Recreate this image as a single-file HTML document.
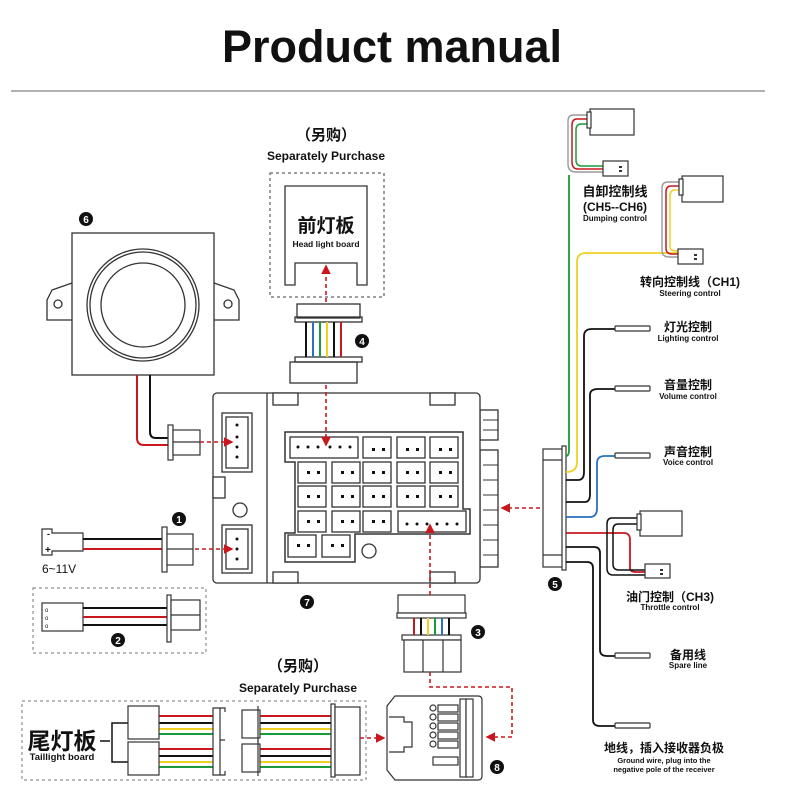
<!DOCTYPE html>
<html><head><meta charset="utf-8"><style>
body{margin:0;background:#fff}
svg{display:block}
text{font-family:"Liberation Sans","Noto Sans CJK SC",sans-serif;fill:#111}
.b{font-weight:bold}
</style></head><body>
<svg width="800" height="800" viewBox="0 0 800 800" xmlns="http://www.w3.org/2000/svg">
<defs>
<marker id="ar" markerWidth="6" markerHeight="6" refX="5" refY="3" orient="auto"><path d="M0,0 L6,3 L0,6z" fill="#c8181e"/></marker>
</defs>
<text x="392" y="62" text-anchor="middle" class="b" font-size="45">Product manual</text>
<line x1="11" y1="91" x2="765" y2="91" stroke="#999" stroke-width="1.5"/>

<g fill="none" stroke="#333" stroke-width="1.3">
<path d="M72,283 L52,290 L47,300 L47,320 L72,320"/>
<path d="M214,283 L234,290 L239,300 L239,320 L214,320"/>
<circle cx="58" cy="304" r="4"/><circle cx="228" cy="304" r="4"/>
<rect x="72" y="233" width="142" height="142" fill="#fff"/>
<circle cx="143" cy="305" r="56"/><circle cx="143" cy="305" r="53"/><circle cx="143" cy="305" r="42"/>
<rect x="270" y="173" width="114" height="124" stroke-dasharray="3,3" stroke="#666"/>
<path d="M285,186 H367 V285 H357 V263 H295 V285 H285 Z"/>
<rect x="297" y="304" width="63" height="14"/><rect x="295" y="317" width="67" height="5"/>
<rect x="295" y="357" width="67" height="5"/><rect x="290" y="362" width="67" height="21"/>
</g>
<g stroke-width="2">
<line x1="306" y1="322" x2="306" y2="357" stroke="#111"/><line x1="313" y1="322" x2="313" y2="357" stroke="#2a6fc0"/>
<line x1="320" y1="322" x2="320" y2="357" stroke="#1b9a3a"/><line x1="327" y1="322" x2="327" y2="357" stroke="#f0d020"/>
<line x1="334" y1="322" x2="334" y2="357" stroke="#111"/><line x1="341" y1="322" x2="341" y2="357" stroke="#c8181e"/>
</g>
<text x="326" y="140" text-anchor="middle" class="b" font-size="15">（另购）</text>
<text x="326" y="160" text-anchor="middle" class="b" font-size="12">Separately Purchase</text>
<text x="326" y="232" text-anchor="middle" class="b" font-size="19">前灯板</text>
<text x="326" y="247" text-anchor="middle" class="b" font-size="8.5">Head light board</text>

<path d="M137,375 V438 Q137,445 144,445 H170" fill="none" stroke="#c8181e" stroke-width="2"/>
<path d="M150,375 V432 Q150,438 156,438 H170" fill="none" stroke="#111" stroke-width="2"/>
<g fill="#fff" stroke="#333" stroke-width="1.2">
<rect x="168" y="425" width="5" height="35"/><rect x="173" y="430" width="27" height="25"/><line x1="173" y1="442" x2="200" y2="442"/>
</g>

<g fill="#fff" stroke="#333" stroke-width="1.3">
<rect x="480" y="410" width="18" height="30"/><rect x="480" y="450" width="18" height="117"/>
<rect x="213" y="393" width="267" height="190" rx="4"/>
<line x1="267" y1="393" x2="267" y2="583"/>
<rect x="273" y="393" width="25" height="12"/><rect x="430" y="393" width="25" height="12"/>
<rect x="273" y="572" width="25" height="11"/><rect x="430" y="572" width="25" height="11"/>
<rect x="222" y="413" width="30" height="59"/><rect x="226" y="417" width="22" height="51"/>
<rect x="222" y="525" width="30" height="48"/><rect x="226" y="529" width="22" height="40"/>
<rect x="213" y="477" width="12" height="21"/>
<circle cx="240" cy="510" r="7"/><circle cx="369" cy="551" r="7"/>
<path d="M285,432 H463 V509 H470 V534 H355 V562 H285 V533 H295 V462 H285 Z" stroke-width="1.5"/>
<rect x="290" y="437" width="68" height="21"/>
<rect x="363" y="437" width="28" height="21"/><rect x="397" y="437" width="28" height="21"/><rect x="430" y="437" width="28" height="21"/>
<rect x="298" y="462" width="28" height="21"/><rect x="332" y="462" width="28" height="21"/><rect x="363" y="462" width="28" height="21"/><rect x="397" y="462" width="28" height="21"/><rect x="430" y="462" width="28" height="21"/>
<rect x="298" y="486" width="28" height="21"/><rect x="332" y="486" width="28" height="21"/><rect x="363" y="486" width="28" height="21"/><rect x="397" y="486" width="28" height="21"/><rect x="430" y="486" width="28" height="21"/>
<rect x="298" y="511" width="28" height="21"/><rect x="332" y="511" width="28" height="21"/><rect x="363" y="511" width="28" height="21"/>
<rect x="398" y="511" width="68" height="21"/>
<rect x="288" y="535" width="28" height="22"/><rect x="322" y="535" width="28" height="22"/>
</g>
<g stroke="#333" stroke-width="1">
<line x1="483" y1="420" x2="498" y2="420"/><line x1="483" y1="430" x2="498" y2="430"/>
<line x1="483" y1="465" x2="498" y2="465"/><line x1="483" y1="480" x2="498" y2="480"/><line x1="483" y1="495" x2="498" y2="495"/><line x1="483" y1="510" x2="498" y2="510"/><line x1="483" y1="525" x2="498" y2="525"/><line x1="483" y1="540" x2="498" y2="540"/><line x1="483" y1="555" x2="498" y2="555"/>
</g>
<g fill="#111">
<circle cx="298" cy="447" r="1.5"/><circle cx="308" cy="447" r="1.5"/><circle cx="318" cy="447" r="1.5"/><circle cx="330" cy="447" r="1.5"/><circle cx="340" cy="447" r="1.5"/><circle cx="350" cy="447" r="1.5"/>
<circle cx="407" cy="524" r="1.5"/><circle cx="417" cy="524" r="1.5"/><circle cx="427" cy="524" r="1.5"/><circle cx="437" cy="524" r="1.5"/><circle cx="447" cy="524" r="1.5"/><circle cx="457" cy="524" r="1.5"/>
<circle cx="237" cy="425" r="1.5"/><circle cx="237" cy="437" r="1.5"/><circle cx="237" cy="447" r="1.5"/><circle cx="237" cy="457" r="1.5"/>
<circle cx="237" cy="539" r="1.5"/><circle cx="237" cy="549" r="1.5"/><circle cx="237" cy="559" r="1.5"/>
</g>
<g fill="#111">
<path d="M372,448h3v3h-3zM382,448h3v3h-3zM406,448h3v3h-3zM416,448h3v3h-3zM439,448h3v3h-3zM449,448h3v3h-3z
M307,471h3v3h-3zM317,471h3v3h-3zM341,471h3v3h-3zM351,471h3v3h-3zM372,471h3v3h-3zM382,471h3v3h-3zM406,471h3v3h-3zM416,471h3v3h-3zM439,471h3v3h-3zM449,471h3v3h-3z
M307,495h3v3h-3zM317,495h3v3h-3zM341,495h3v3h-3zM351,495h3v3h-3zM372,495h3v3h-3zM382,495h3v3h-3zM406,495h3v3h-3zM416,495h3v3h-3zM439,495h3v3h-3zM449,495h3v3h-3z
M307,520h3v3h-3zM317,520h3v3h-3zM341,520h3v3h-3zM351,520h3v3h-3zM372,520h3v3h-3zM382,520h3v3h-3z
M297,544h3v3h-3zM307,544h3v3h-3zM331,544h3v3h-3zM341,544h3v3h-3z"/>
</g>

<g fill="#fff" stroke="#333" stroke-width="1.2">
<path d="M42,529 H52 V533 H83 V551 H52 V555 H42 Z"/>
</g>
<text x="47" y="537" font-size="9" class="b">-</text><text x="45" y="553" font-size="10" class="b">+</text>
<line x1="83" y1="539" x2="162" y2="539" stroke="#111" stroke-width="2"/>
<line x1="83" y1="549" x2="162" y2="549" stroke="#c8181e" stroke-width="2"/>
<g fill="#fff" stroke="#333" stroke-width="1.2">
<rect x="162" y="527" width="5" height="45"/><rect x="167" y="534" width="26" height="31"/><line x1="167" y1="549" x2="193" y2="549"/>
</g>
<text x="42" y="573" font-size="12">6~11V</text>

<rect x="33" y="588" width="173" height="65" fill="none" stroke="#777" stroke-dasharray="3,3"/>
<g fill="#fff" stroke="#333" stroke-width="1.2"><rect x="42" y="603" width="41" height="28"/></g>
<text x="45" y="612" font-size="6">o</text><text x="45" y="620" font-size="6">o</text><text x="45" y="628" font-size="6">o</text>
<line x1="83" y1="608" x2="167" y2="608" stroke="#111" stroke-width="2"/>
<line x1="83" y1="617" x2="167" y2="617" stroke="#c8181e" stroke-width="2"/>
<line x1="83" y1="625" x2="167" y2="625" stroke="#111" stroke-width="2"/>
<g fill="#fff" stroke="#333" stroke-width="1.2"><rect x="167" y="595" width="4" height="47"/><rect x="171" y="600" width="29" height="30"/><line x1="171" y1="615" x2="200" y2="615"/></g>

<g fill="#fff" stroke="#333" stroke-width="1.2">
<rect x="398" y="595" width="67" height="18"/><rect x="397" y="613" width="69" height="5"/>
<rect x="402" y="635" width="59" height="5"/><rect x="404" y="640" width="57" height="32"/>
<line x1="423" y1="640" x2="423" y2="672"/><line x1="443" y1="640" x2="443" y2="672"/>
</g>
<g stroke-width="2">
<line x1="414" y1="618" x2="414" y2="635" stroke="#c8181e"/><line x1="421" y1="618" x2="421" y2="635" stroke="#111"/>
<line x1="428" y1="618" x2="428" y2="635" stroke="#f0d020"/><line x1="435" y1="618" x2="435" y2="635" stroke="#1b9a3a"/>
<line x1="442" y1="618" x2="442" y2="635" stroke="#2a6fc0"/><line x1="449" y1="618" x2="449" y2="635" stroke="#111"/>
</g>

<g fill="#fff" stroke="#333" stroke-width="1.2">
<path d="M395,696 H478 Q482,696 482,700 V776 Q482,780 478,780 H395 L387,770 V706 Z"/>
<path d="M389,717 H404 V722 H412 V747 H404 V752 H389"/>
<rect x="460" y="699" width="6" height="78"/><rect x="466" y="699" width="7" height="78"/>
<rect x="438" y="705" width="20" height="7"/><rect x="438" y="714" width="20" height="7"/><rect x="438" y="723" width="20" height="7"/><rect x="438" y="732" width="20" height="7"/><rect x="438" y="741" width="20" height="7"/><rect x="433" y="757" width="25" height="8"/>
<circle cx="433" cy="708" r="3"/><circle cx="433" cy="717" r="3"/><circle cx="433" cy="726" r="3"/><circle cx="433" cy="735" r="3"/><circle cx="433" cy="744" r="3"/>
</g>

<rect x="22" y="701" width="344" height="79" fill="none" stroke="#777" stroke-dasharray="3,3"/>
<text x="62" y="749" text-anchor="middle" class="b" font-size="23">尾灯板</text>
<text x="62" y="760" text-anchor="middle" class="b" font-size="9.5">Taillight board</text>
<path d="M100,741 H110 M128,723 H112 V762 H128" fill="none" stroke="#111" stroke-width="1.5"/>
<g stroke-width="2">
<line x1="159" y1="716" x2="213" y2="716" stroke="#c8181e"/><line x1="159" y1="723" x2="213" y2="723" stroke="#111"/><line x1="159" y1="729" x2="213" y2="729" stroke="#f0d020"/><line x1="159" y1="734" x2="213" y2="734" stroke="#1b9a3a"/>
<line x1="159" y1="749" x2="213" y2="749" stroke="#c8181e"/><line x1="159" y1="756" x2="213" y2="756" stroke="#111"/><line x1="159" y1="762" x2="213" y2="762" stroke="#f0d020"/><line x1="159" y1="767" x2="213" y2="767" stroke="#1b9a3a"/>
<line x1="260" y1="716" x2="331" y2="716" stroke="#c8181e"/><line x1="260" y1="723" x2="331" y2="723" stroke="#111"/><line x1="260" y1="729" x2="331" y2="729" stroke="#f0d020"/><line x1="260" y1="734" x2="331" y2="734" stroke="#1b9a3a"/>
<line x1="260" y1="749" x2="331" y2="749" stroke="#c8181e"/><line x1="260" y1="756" x2="331" y2="756" stroke="#111"/><line x1="260" y1="762" x2="331" y2="762" stroke="#f0d020"/><line x1="260" y1="767" x2="331" y2="767" stroke="#1b9a3a"/>
</g>
<g fill="#fff" stroke="#333" stroke-width="1.2">
<rect x="128" y="706" width="31" height="33"/><rect x="128" y="742" width="31" height="33"/>
<path d="M213,708 H220 V775 H213 Z M220,708 H225 V712 M220,775 H225 V771 M220,740 H225"/>
<rect x="242" y="710" width="18" height="28"/><rect x="242" y="744" width="18" height="28"/>
<line x1="258" y1="706" x2="258" y2="742"/><line x1="258" y1="740" x2="258" y2="776"/>
<rect x="331" y="704" width="4" height="73"/><rect x="335" y="707" width="25" height="68"/>
</g>
<text x="298" y="671" text-anchor="middle" class="b" font-size="15">（另购）</text>
<text x="298" y="692" text-anchor="middle" class="b" font-size="12">Separately Purchase</text>

<g fill="none" stroke="#c8181e" stroke-width="1.6" stroke-dasharray="4,3" marker-end="url(#ar)">
<line x1="326" y1="302" x2="326" y2="266"/>
<line x1="326" y1="385" x2="326" y2="445"/>
<line x1="200" y1="442" x2="232" y2="442"/>
<line x1="195" y1="549" x2="232" y2="549"/>
<line x1="430" y1="595" x2="430" y2="525"/>
<line x1="540" y1="508" x2="502" y2="508"/>
<line x1="360" y1="738" x2="384" y2="738"/>
<path d="M430,672 V687 H512 V737 H487"/>
</g>

<g fill="#fff" stroke="#333" stroke-width="1.2">
<rect x="543" y="449" width="21" height="118"/><rect x="562" y="446" width="4" height="124"/>
<line x1="543" y1="460" x2="562" y2="460"/><line x1="543" y1="555" x2="562" y2="555"/>
</g>
<g fill="none" stroke-width="1.8">
<path d="M566,456 Q569,456 569,450 V250 V175" stroke="#1b9a3a"/>
<path d="M566,472 Q577,472 577,462 V262 Q577,253 586,253 H678" stroke="#f0d020"/>
<path d="M566,480 H578 Q584,480 584,472 V336 Q584,329 592,329 H615" stroke="#111"/>
<path d="M566,502 H585 Q590,502 590,494 V395 Q590,389 598,389 H615" stroke="#111"/>
<path d="M566,517 H590 Q597,517 597,508 V463 Q597,456 605,456 H615" stroke="#2a6fc0"/>
<path d="M566,533 H624 Q630,533 630,540 V568 Q630,572 636,572 H645" stroke="#c8181e"/>
<path d="M566,547 H594 Q600,547 600,553 V650 Q600,656 607,656 H615" stroke="#111"/>
<path d="M566,562 H587 Q593,562 593,568 V720 Q593,726 600,726 H615" stroke="#111"/>
<path d="M640,518 H612 Q607,518 607,524 V568 Q607,575 613,575 H645" stroke="#111" stroke-width="1.5"/>
<path d="M640,524 H618 Q613,524 613,530 V564 Q613,570 619,570 H645" stroke="#111" stroke-width="1.5"/>
<path d="M590,115 H574 Q568,115 568,121 V164 Q568,172 576,172 H603" stroke="#999" stroke-width="1.4"/>
<path d="M590,119 H577 Q572,119 572,125 V162 Q572,169 578,169 H603" stroke="#c8181e" stroke-width="1.5"/>
<path d="M590,124 H581 Q576,124 576,130 V160 Q576,166 582,166 H603" stroke="#1b9a3a" stroke-width="1.5"/>
<path d="M682,182 H668 Q662,182 662,188 V250 Q662,257 669,257 H678" stroke="#999" stroke-width="1.4"/>
<path d="M682,186 H671 Q666,186 666,192 V248 Q666,254 672,254 H678" stroke="#c8181e" stroke-width="1.5"/>
<path d="M682,190 H675 Q670,190 670,196 V246 Q670,251 676,251 H678" stroke="#f0d020" stroke-width="1.5"/>
</g>
<g fill="#fff" stroke="#333" stroke-width="1.2">
<rect x="590" y="109" width="44" height="26"/><rect x="587" y="112" width="4" height="16"/>
<rect x="603" y="161" width="25" height="15"/>
<rect x="682" y="176" width="41" height="26"/><rect x="679" y="179" width="4" height="16"/>
<rect x="678" y="249" width="25" height="15"/>
<rect x="640" y="511" width="42" height="25"/><rect x="637" y="514" width="4" height="16"/>
<rect x="645" y="564" width="25" height="14"/>
<rect x="615" y="326" width="35" height="5" rx="1"/><rect x="615" y="386" width="35" height="5" rx="1"/>
<rect x="615" y="453" width="35" height="5" rx="1"/><rect x="615" y="653" width="35" height="5" rx="1"/>
<rect x="615" y="723" width="35" height="5" rx="1"/>
</g>
<g fill="#333"><rect x="619" y="166" width="3" height="2"/><rect x="619" y="170" width="3" height="2"/><rect x="694" y="254" width="3" height="2"/><rect x="694" y="258" width="3" height="2"/><rect x="660" y="569" width="3" height="2"/><rect x="660" y="573" width="3" height="2"/></g>

<g class="b" text-anchor="middle">
<text x="615" y="196" font-size="13">自卸控制线</text>
<text x="615" y="211" font-size="12">(CH5--CH6)</text>
<text x="615" y="221" font-size="8">Dumping control</text>
<text x="690" y="286" font-size="12">转向控制线（CH1)</text>
<text x="690" y="296" font-size="8">Steering control</text>
<text x="688" y="331" font-size="12">灯光控制</text>
<text x="688" y="341" font-size="8">Lighting control</text>
<text x="688" y="389" font-size="12">音量控制</text>
<text x="688" y="399" font-size="8">Volume control</text>
<text x="688" y="456" font-size="12">声音控制</text>
<text x="688" y="465" font-size="8">Voice control</text>
<text x="670" y="601" font-size="12">油门控制（CH3)</text>
<text x="670" y="610" font-size="8">Throttle control</text>
<text x="688" y="659" font-size="12">备用线</text>
<text x="688" y="668" font-size="8">Spare line</text>
<text x="664" y="752" font-size="12">地线，插入接收器负极</text>
<text x="664" y="763" font-size="7.5">Ground wire, plug into the</text>
<text x="664" y="772" font-size="7.5">negative pole of the receiver</text>
</g>

<g font-size="10" class="b" text-anchor="middle">
<circle cx="179" cy="519" r="7" fill="#111"/><text x="179" y="523" style="fill:#fff">1</text>
<circle cx="118" cy="640" r="7" fill="#111"/><text x="118" y="644" style="fill:#fff">2</text>
<circle cx="478" cy="632" r="7" fill="#111"/><text x="478" y="636" style="fill:#fff">3</text>
<circle cx="362" cy="341" r="7" fill="#111"/><text x="362" y="345" style="fill:#fff">4</text>
<circle cx="555" cy="584" r="7" fill="#111"/><text x="555" y="588" style="fill:#fff">5</text>
<circle cx="86" cy="219" r="7" fill="#111"/><text x="86" y="223" style="fill:#fff">6</text>
<circle cx="307" cy="602" r="7" fill="#111"/><text x="307" y="606" style="fill:#fff">7</text>
<circle cx="497" cy="767" r="7" fill="#111"/><text x="497" y="771" style="fill:#fff">8</text>
</g>
</svg>
</body></html>
